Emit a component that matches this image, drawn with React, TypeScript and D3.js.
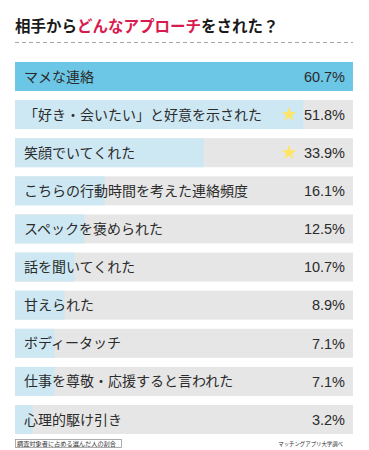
import React, { useEffect, useRef } from 'react';
import * as d3 from 'd3';

const labels = [
  'マメな連絡',
  '「好き・会いたい」と好意を示された',
  '笑顔でいてくれた',
  'こちらの行動時間を考えた連絡頻度',
  'スペックを褒められた',
  '話を聞いてくれた',
  '甘えられた',
  'ボディータッチ',
  '仕事を尊敬・応援すると言われた',
  '心理的駆け引き',
];
const values = [60.7, 51.8, 33.9, 16.1, 12.5, 10.7, 8.9, 7.1, 7.1, 3.2];
const starred = [false, true, true, false, false, false, false, false, false, false];

const titleParts = [
  { text: '相手から', color: '#1a1a1a' },
  { text: 'どんなアプローチ', color: '#d81b4f' },
  { text: 'をされた？', color: '#1a1a1a' },
];
const footLeft = '調査対象者に占める選んだ人の割合';
const footRight = 'マッチングアプリ大学調べ';

const width = 369;
const height = 450;
const jp = '"Noto Sans CJK JP", sans-serif';
const num = '"Liberation Sans", Arial, sans-serif';

export default function App() {
  const ref = useRef<SVGSVGElement>(null);

  useEffect(() => {
    const svg = d3.select(ref.current);
    svg.selectAll('*').remove();

    const margin = { left: 15, right: 16, top: 62, bottom: 434 };

    // title
    const title = svg.append('text')
      .attr('x', margin.left)
      .attr('y', 32)
      .attr('font-family', jp)
      .attr('font-weight', 700)
      .attr('font-size', 15.5);
    titleParts.forEach(p => {
      title.append('tspan').attr('fill', p.color).text(p.text);
    });

    svg.append('line')
      .attr('x1', margin.left).attr('x2', width - margin.right)
      .attr('y1', 42.5).attr('y2', 42.5)
      .attr('stroke', '#a8a8a8')
      .attr('stroke-width', 1)
      .attr('stroke-dasharray', '4 3');

    const x = d3.scaleLinear().domain([0, d3.max(values)!]).range([margin.left, width - margin.right]);
    const y = d3.scaleBand<number>()
      .domain(d3.range(values.length))
      .range([margin.top, margin.bottom])
      .paddingInner(0.24)
      .paddingOuter(0);

    const rows = svg.append('g').selectAll('g')
      .data(d3.range(values.length))
      .join('g')
      .attr('transform', i => `translate(0,${y(i)})`);

    rows.append('rect')
      .attr('x', x(0)).attr('width', x.range()[1] - x(0))
      .attr('height', y.bandwidth())
      .attr('fill', '#e6e6e6');

    rows.append('rect')
      .attr('x', x(0))
      .attr('width', i => x(values[i]) - x(0))
      .attr('height', y.bandwidth())
      .attr('fill', i => (i === 0 ? '#6cc6e6' : '#cde8f3'));

    rows.append('text')
      .attr('x', margin.left + 9)
      .attr('y', y.bandwidth() / 2)
      .attr('dy', '0.36em')
      .attr('font-family', jp)
      .attr('font-size', 14)
      .attr('fill', '#2b2b2b')
      .text(i => labels[i]);

    rows.append('text')
      .attr('x', width - margin.right - 8)
      .attr('y', y.bandwidth() / 2)
      .attr('dy', '0.36em')
      .attr('text-anchor', 'end')
      .attr('font-family', num)
      .attr('font-size', 14.5)
      .attr('fill', '#2b2b2b')
      .text(i => values[i].toFixed(1) + '%');

    rows.filter(i => starred[i])
      .append('path')
      .attr('d', d3.symbol(d3.symbolStar, 70)())
      .attr('transform', `translate(289,${y.bandwidth() / 2})`)
      .attr('fill', '#ffe566');

    // footnotes
    svg.append('rect')
      .attr('x', margin.left + 0.5).attr('y', 439.5)
      .attr('width', 106).attr('height', 8)
      .attr('fill', 'white')
      .attr('stroke', '#999')
      .attr('stroke-width', 0.8);
    svg.append('text')
      .attr('x', margin.left + 2).attr('y', 446)
      .attr('font-family', jp).attr('font-size', 6.2)
      .attr('fill', '#333')
      .text(footLeft);
    svg.append('text')
      .attr('x', 343).attr('y', 446)
      .attr('text-anchor', 'end')
      .attr('font-family', jp).attr('font-size', 5.4)
      .attr('fill', '#333')
      .text(footRight);
  }, []);

  return (
    <svg ref={ref} width={width} height={height}
      style={{ position: 'absolute', left: 0, top: 0, background: 'white' }} />
  );
}
